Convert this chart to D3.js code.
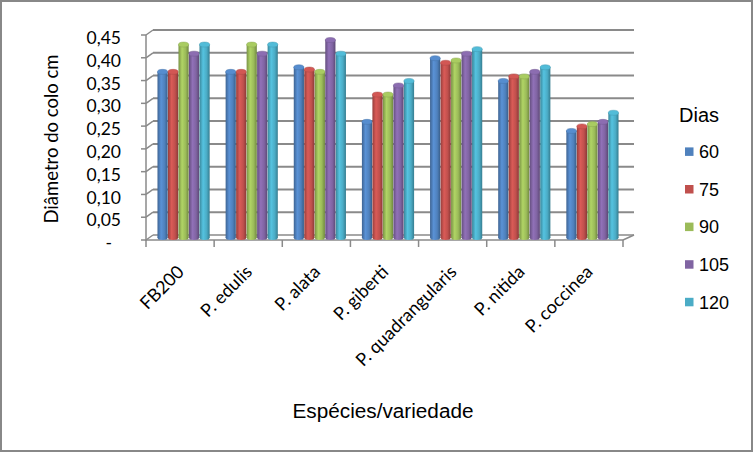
<!DOCTYPE html>
<html><head><meta charset="utf-8">
<script src="https://cdn.jsdelivr.net/npm/d3@7"></script>
<style>body{margin:0;background:#fff}svg{display:block}</style>
</head><body>
<svg id="c" width="753" height="452"></svg>
<script>
const categories = ["FB200","P. edulis","P. alata","P. giberti","P. quadrangularis","P. nitida","P. coccinea"];
const seriesNames = ["60","75","90","105","120"];
const s60  = [0.37,0.37,0.38,0.26,0.40,0.35,0.24];
const s75  = [0.37,0.37,0.375,0.32,0.39,0.36,0.25];
const s90  = [0.43,0.43,0.37,0.32,0.395,0.36,0.255];
const s105 = [0.41,0.41,0.44,0.34,0.41,0.37,0.26];
const s120 = [0.43,0.43,0.41,0.35,0.42,0.38,0.28];
const yTicks = [0,0.05,0.10,0.15,0.20,0.25,0.30,0.35,0.40,0.45];
const colors = ["#4F81BD","#C0504D","#9BBB59","#8064A2","#4BACC6"];
const series = [s60,s75,s90,s105,s120];

const svg = d3.select("#c");
const W=753,H=452;
const cal = "Lato, 'Open Sans', sans-serif";
const ari = "'Liberation Sans', Arial, sans-serif";
svg.append("rect").attr("x",1).attr("y",1).attr("width",W-2).attr("height",H-2)
  .attr("fill","#fff").attr("stroke","#888").attr("stroke-width",2);

const dx=7, dy=-5; // depth offset
const front = {x0:146,x1:623};
const yFront = d3.scaleLinear().domain([0,0.45]).range([240,35]);
const yBack = v => yFront(v)+dy;
const yMid = d3.scaleLinear().domain([0,0.45]).range([237.5,33]);
const xFront = d3.scaleBand().domain(categories).range([front.x0,front.x1]);
const xMid = d3.scaleBand().domain(categories).range([front.x0+3.5,front.x1+3.5]).paddingInner(0.225).paddingOuter(0.1125);
const xInner = d3.scaleBand().domain(seriesNames).range([0,xMid.bandwidth()]).padding(0.03);

const grid = "#8a8a8a";
const g = svg.append("g");
yTicks.forEach(t=>{
  g.append("line").attr("x1",front.x0).attr("y1",yFront(t)).attr("x2",front.x0+dx).attr("y2",yBack(t)).attr("stroke",grid).attr("stroke-width",1.5);
  g.append("line").attr("x1",front.x0+dx).attr("y1",yBack(t)).attr("x2",front.x1+dx+4).attr("y2",yBack(t)).attr("stroke",grid).attr("stroke-width",t===0?1.5:2);
  g.append("line").attr("x1",front.x0-5).attr("y1",yFront(t)).attr("x2",front.x0).attr("y2",yFront(t)).attr("stroke",grid).attr("stroke-width",1.5);
});
g.append("line").attr("x1",front.x0).attr("y1",yFront(0)).attr("x2",front.x1).attr("y2",yFront(0)).attr("stroke",grid).attr("stroke-width",1.5);
g.append("line").attr("x1",front.x1).attr("y1",yFront(0)).attr("x2",front.x1+dx+4).attr("y2",yBack(0)).attr("stroke",grid).attr("stroke-width",1.5);
g.append("line").attr("x1",front.x0).attr("y1",yFront(0.45)).attr("x2",front.x0).attr("y2",yFront(0)+1).attr("stroke",grid).attr("stroke-width",1.5);
const bounds = categories.map(c=>xFront(c)).concat([front.x1]);
bounds.forEach(x=>{
  g.append("line").attr("x1",x).attr("y1",yFront(0)).attr("x2",x).attr("y2",yFront(0)+7).attr("stroke",grid).attr("stroke-width",1.5);
});

const defs = svg.append("defs");
colors.forEach((c,i)=>{
  const gr = defs.append("linearGradient").attr("id","gr"+i).attr("x1","0").attr("x2","1").attr("y1","0").attr("y2","0");
  const base=d3.color(c);
  gr.append("stop").attr("offset","0").attr("stop-color",base.darker(0.7));
  gr.append("stop").attr("offset","0.35").attr("stop-color",base.brighter(0.35));
  gr.append("stop").attr("offset","0.7").attr("stop-color",base);
  gr.append("stop").attr("offset","1").attr("stop-color",base.darker(0.9));
});

const ry=2.5;
categories.forEach((cat,ci)=>{
  series.forEach((s,si)=>{
    const v=s[ci];
    const x=xMid(cat)+xInner(seriesNames[si]);
    const w=xInner.bandwidth();
    const top=yMid(v)+ry, bot=yMid(0);
    const bg=g.append("g");
    bg.append("ellipse").attr("cx",x+w/2).attr("cy",bot).attr("rx",w/2).attr("ry",ry).attr("fill","url(#gr"+si+")");
    bg.append("rect").attr("x",x).attr("y",top).attr("width",w).attr("height",bot-top).attr("fill","url(#gr"+si+")");
    bg.append("ellipse").attr("cx",x+w/2).attr("cy",top).attr("rx",w/2).attr("ry",ry)
      .attr("fill",d3.color(colors[si]).brighter(0.25)).attr("stroke",d3.color(colors[si]).darker(0.3)).attr("stroke-width",0.5);
  });
});

const fmt = t => t===0 ? "-" : t.toFixed(2).replace(".",",");
yTicks.forEach(t=>{
  svg.append("text").attr("x",t===0?112:121).attr("y",yFront(t)+3).attr("dy","0.35em")
    .attr("text-anchor","end").attr("font-family",cal).attr("font-size",17.5).attr("fill","#000").text(fmt(t));
});
categories.forEach(c=>{
  const cx=xFront(c)+xFront.bandwidth()/2+5;
  svg.append("text").attr("transform",`translate(${cx},${273}) rotate(-45)`)
    .attr("text-anchor","end").attr("font-family",cal).attr("font-size",18).attr("fill","#000").text(c);
});
svg.append("text").attr("transform","translate(58,139) rotate(-90)").attr("text-anchor","middle")
  .attr("font-family",cal).attr("font-size",18.5).attr("fill","#000").text("Diâmetro do colo cm");
svg.append("text").attr("x",383).attr("y",418).attr("text-anchor","middle")
  .attr("font-family",ari).attr("font-size",20).attr("textLength",181).attr("lengthAdjust","spacingAndGlyphs").attr("fill","#000").text("Espécies/variedade");
svg.append("text").attr("x",679).attr("y",122).attr("font-family",ari).attr("font-size",20).attr("fill","#000").text("Dias");
seriesNames.forEach((n,i)=>{
  const y=151.7+i*37.6;
  svg.append("rect").attr("x",685).attr("y",y-4.3).attr("width",8.5).attr("height",8.5).attr("fill",colors[i]);
  svg.append("text").attr("x",699).attr("y",y).attr("dy","0.36em").attr("font-family",ari).attr("font-size",18).attr("fill","#000").text(n);
});
</script>
</body></html>
